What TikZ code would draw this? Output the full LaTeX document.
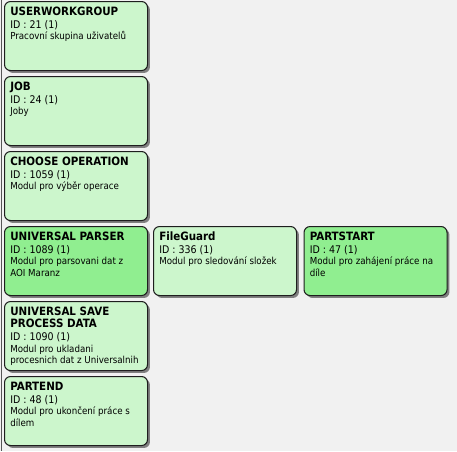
\documentclass[tikz,border=0pt]{standalone}
\usepackage{fontspec}
\setmainfont{DejaVu Sans Condensed}
\usetikzlibrary{shadows}
\definecolor{bg}{RGB}{241,241,241}
\definecolor{lgreen}{RGB}{204,246,204}
\definecolor{dgreen}{RGB}{144,238,144}
\definecolor{edge}{RGB}{30,30,30}
\tikzset{
  box/.style={draw=edge, line width=0.8pt, rounded corners=4.5pt, minimum width=107.25pt, minimum height=51.75pt,
    anchor=north west, inner sep=0pt, drop shadow={shadow xshift=1.8pt, shadow yshift=-1.8pt, fill=black!80, opacity=0.6}},
  light/.style={box, fill=lgreen},
  dark/.style={box, fill=dgreen},
  ln/.style={anchor=base west, inner sep=0pt, text=black},
  ttl/.style={ln, font=\fontsize{8.6pt}{10pt}\selectfont\bfseries},
  idl/.style={ln, font=\fontsize{7.9pt}{9pt}\selectfont},
  dsc/.style={ln, font=\fontsize{7.25pt}{9pt}\selectfont},
}
\begin{document}
\begin{tikzpicture}[x=0.75pt,y=-0.75pt]
\fill[bg] (0,0) rectangle (457,451);
\useasboundingbox (0,0) rectangle (457,451);
\draw[edge!75, line width=1.1pt] (1.5,0) -- (1.5,451);
% boxes
\node[light] (b1) at (4,1) {};
\node[light] (b2) at (4,76) {};
\node[light] (b3) at (4,151) {};
\node[dark]  (b4) at (4,226) {};
\node[light] (b5) at (4,301) {};
\node[light] (b6) at (4,376) {};
\node[light] (b7) at (153,226) {};
\node[dark]  (b8) at (303.5,226) {};
% box 1
\node[ttl] (t1a) at ([shift={(6,14)}]b1.north west) {USERWORKGROUP};
\node[idl] (t1b) at ([shift={(6,27)}]b1.north west) {ID : 21 (1)};
\node[dsc] (t1c) at ([shift={(6,38.5)}]b1.north west) {Pracovní skupina uživatelů};
% box 2
\node[ttl] (t2a) at ([shift={(6,14)}]b2.north west) {JOB};
\node[idl] (t2b) at ([shift={(6,27)}]b2.north west) {ID : 24 (1)};
\node[dsc] (t2c) at ([shift={(6,38.5)}]b2.north west) {Joby};
% box 3
\node[ttl] (t3a) at ([shift={(6,14)}]b3.north west) {CHOOSE OPERATION};
\node[idl] (t3b) at ([shift={(6,27)}]b3.north west) {ID : 1059 (1)};
\node[dsc] (t3c) at ([shift={(6,38.5)}]b3.north west) {Modul pro výběr operace};
% box 4
\node[ttl] (t4a) at ([shift={(6,14)}]b4.north west) {UNIVERSAL PARSER};
\node[idl] (t4b) at ([shift={(6,27)}]b4.north west) {ID : 1089 (1)};
\node[dsc] (t4c) at ([shift={(6,38.5)}]b4.north west) {Modul pro parsovani dat z};
\node[dsc] (t4d) at ([shift={(6,50)}]b4.north west) {AOI Maranz};
% box 5
\node[ttl] (t5a) at ([shift={(6,14)}]b5.north west) {UNIVERSAL SAVE};
\node[ttl] (t5e) at ([shift={(6,26)}]b5.north west) {PROCESS DATA};
\node[idl] (t5b) at ([shift={(6,39.5)}]b5.north west) {ID : 1090 (1)};
\node[dsc] (t5c) at ([shift={(6,51)}]b5.north west) {Modul pro ukladani};
\node[dsc] (t5d) at ([shift={(6,62.5)}]b5.north west) {procesnich dat z Universalnih};
% box 6
\node[ttl] (t6a) at ([shift={(6,14)}]b6.north west) {PARTEND};
\node[idl] (t6b) at ([shift={(6,27)}]b6.north west) {ID : 48 (1)};
\node[dsc] (t6c) at ([shift={(6,38.5)}]b6.north west) {Modul pro ukončení práce s};
\node[dsc] (t6d) at ([shift={(6,50)}]b6.north west) {dílem};
% box 7
\node[ttl] (t7a) at ([shift={(6,14)}]b7.north west) {FileGuard};
\node[idl] (t7b) at ([shift={(6,27)}]b7.north west) {ID : 336 (1)};
\node[dsc] (t7c) at ([shift={(6,38.5)}]b7.north west) {Modul pro sledování složek};
% box 8
\node[ttl] (t8a) at ([shift={(6,14)}]b8.north west) {PARTSTART};
\node[idl] (t8b) at ([shift={(6,27)}]b8.north west) {ID : 47 (1)};
\node[dsc] (t8c) at ([shift={(6,38.5)}]b8.north west) {Modul pro zahájení práce na};
\node[dsc] (t8d) at ([shift={(6,50)}]b8.north west) {díle};
\end{tikzpicture}
\end{document}
